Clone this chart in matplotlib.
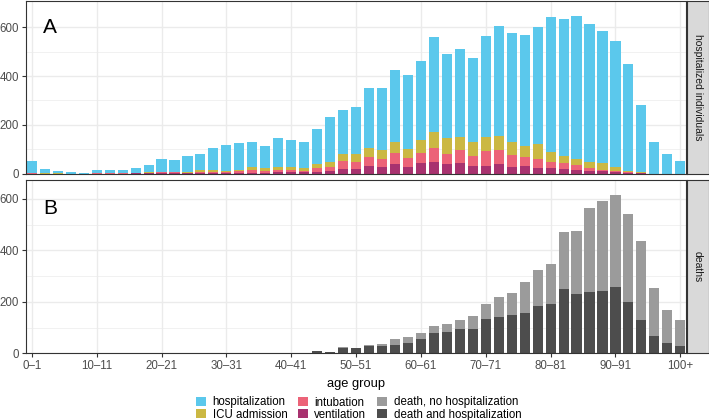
import matplotlib
matplotlib.use('Agg')
import matplotlib.pyplot as plt
from matplotlib.patches import Patch
import numpy as np

plt.rcParams['font.family'] = ['Liberation Sans', 'DejaVu Sans']

# age groups: 2-year bins, 0–1 ... 98–99, 100+
age_groups = [f'{a}–{a + 1}' for a in range(0, 100, 2)] + ['100+']

# panel A: hospitalized individuals (nested counts, drawn overlaid)
hospitalization = [52, 17, 9, 5, 2, 13, 16, 13, 23, 35,
                   60, 57, 72, 82, 104, 115, 126, 131, 113, 144,
                   137, 128, 182, 230, 261, 271, 349, 349, 423, 404,
                   463, 559, 490, 513, 476, 564, 604, 575, 568, 602,
                   641, 634, 646, 613, 583, 545, 449, 283, 129, 82, 53]
icu_admission = [3, 1, 1, 0, 0, 3, 4, 2, 3, 5,
                 8, 8, 7, 16, 14, 12, 15, 25, 22, 25,
                 26, 22, 41, 48, 82, 81, 105, 97, 129, 100,
                 137, 172, 145, 148, 130, 148, 153, 130, 112, 122,
                 88, 71, 60, 48, 44, 27, 12, 8, 0, 0, 0]
intubation = [1, 0, 0, 0, 0, 1, 1, 1, 2, 3,
              7, 8, 4, 8, 8, 7, 10, 16, 12, 14,
              15, 12, 21, 26, 51, 49, 66, 60, 84, 64,
              86, 104, 82, 96, 70, 92, 96, 74, 67, 59,
              47, 45, 33, 21, 16, 10, 5, 3, 0, 0, 0]
ventilation = [0, 0, 0, 0, 0, 0, 0, 0, 1, 1,
               2, 2, 1, 2, 3, 3, 3, 4, 4, 5,
               8, 5, 7, 12, 20, 18, 30, 26, 41, 27,
               44, 47, 37, 44, 30, 31, 37, 27, 30, 22,
               21, 18, 16, 11, 10, 7, 3, 1, 0, 0, 0]

# panel B: deaths (total, and with hospitalization)
deaths_total = [0, 0, 0, 0, 0, 0, 0, 0, 0, 0,
                0, 0, 0, 0, 0, 1, 0, 2, 0, 1,
                2, 1, 10, 5, 23, 22, 32, 36, 56, 64,
                79, 105, 114, 131, 145, 193, 220, 235, 279, 324,
                346, 470, 477, 564, 594, 615, 540, 436, 254, 170, 131]
deaths_hosp = [0, 0, 0, 0, 0, 0, 0, 0, 0, 0,
               0, 0, 0, 0, 0, 1, 0, 2, 0, 1,
               2, 1, 10, 5, 21, 20, 28, 30, 32, 41,
               57, 78, 84, 95, 95, 135, 141, 147, 158, 184,
               192, 249, 230, 239, 241, 258, 201, 131, 66, 41, 30]

colors = {
    'hospitalization': '#5BC8EC',
    'ICU admission': '#CBB843',
    'intubation': '#EC6378',
    'ventilation': '#A8326F',
    'death, no hospitalization': '#9B9B9B',
    'death and hospitalization': '#4D4D4D',
}

W, H = 709, 420
fig = plt.figure(figsize=(W / 100, H / 100), dpi=100)

def box(x0, y0, x1, y1):
    return [x0 / W, 1 - y1 / H, (x1 - x0) / W, (y1 - y0) / H]

axA = fig.add_axes(box(26, 1, 685.5, 173.5))
axB = fig.add_axes(box(26, 179.7, 685.5, 353.3))
x = np.arange(len(age_groups))
bw = 0.78

axA.bar(x, hospitalization, width=bw, color=colors['hospitalization'])
axA.bar(x, icu_admission, width=bw, color=colors['ICU admission'])
axA.bar(x, intubation, width=bw, color=colors['intubation'])
axA.bar(x, ventilation, width=bw, color=colors['ventilation'])

axB.bar(x, deaths_total, width=bw, color=colors['death, no hospitalization'])
axB.bar(x, deaths_hosp, width=bw, color=colors['death and hospitalization'])

for ax, top, letter, base in [(axA, 708, 'A', 0.814), (axB, 675, 'B', 0.802)]:
    ax.set_xlim(-0.45, 50.4)
    ax.set_ylim(0, top)
    ax.set_axisbelow(True)
    ax.set_yticks([0, 200, 400, 600])
    ax.set_yticks([100, 300, 500], minor=True)
    ax.set_xticks(x[::5])
    ax.grid(which='major', color='#EBEBEB', linewidth=1.0)
    ax.grid(which='minor', axis='y', color='#EBEBEB', linewidth=0.5)
    for s in ax.spines.values():
        s.set_color('#333333')
        s.set_linewidth(0.8)
    ax.tick_params(which='major', length=3, width=0.8, color='#333333',
                   labelsize=8.3, labelcolor='#4D4D4D', pad=2)
    ax.tick_params(which='minor', length=0)
    ax.text(0.026, base, letter, transform=ax.transAxes, fontsize=15,
            va='baseline', ha='left')

axA.tick_params(axis='x', length=0, labelbottom=False)
axB.set_xticklabels([age_groups[i] for i in x[::5]])
axB.set_xlabel('age group', fontsize=9.3, labelpad=4)

for (y0, y1), label in [((1, 173.5), 'hospitalized individuals'),
                        ((179.7, 353.3), 'deaths')]:
    sax = fig.add_axes(box(687, y0, 708.5, y1))
    sax.set_facecolor('#D9D9D9')
    sax.set_xticks([])
    sax.set_yticks([])
    for s in sax.spines.values():
        s.set_color('#333333')
        s.set_linewidth(0.8)
    sax.text(0.5, 0.5, label, rotation=270, ha='center', va='center',
             fontsize=7.5, color='#1A1A1A', transform=sax.transAxes)

handles = [Patch(facecolor=c, edgecolor='none') for c in colors.values()]
fig.legend(handles, list(colors.keys()), ncol=3, loc='upper center',
           bbox_to_anchor=(358.5 / W, 1 - 396.5 / H), frameon=False,
           fontsize=8.3, handlelength=0.85, handleheight=0.75,
           handletextpad=0.6, columnspacing=0.9, labelspacing=0.02,
           borderpad=0, borderaxespad=0)

fig.savefig('out.png', dpi=100)
